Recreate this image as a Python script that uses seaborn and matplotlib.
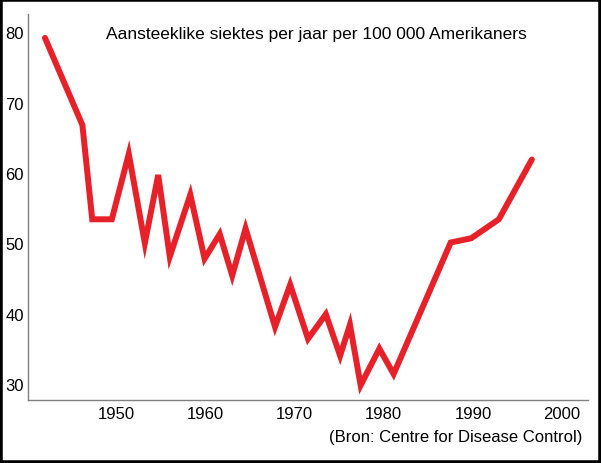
import numpy as np
import pandas as pd
import seaborn as sns
import matplotlib.pyplot as plt
from matplotlib.patches import Rectangle

# values
years = [1942.0, 1946.2, 1947.3, 1949.5, 1951.4, 1953.2, 1954.7, 1956.0, 1958.3,
         1959.9, 1961.6, 1963.0, 1964.5, 1967.8, 1969.5, 1971.5, 1973.5, 1975.1,
         1976.2, 1977.4, 1979.5, 1981.1, 1987.5, 1989.8, 1992.9, 1996.6]
cases = [79.2, 66.8, 53.4, 53.4, 62.7, 50.0, 59.7, 48.1, 56.9,
         47.8, 51.3, 45.4, 52.1, 38.1, 44.1, 36.4, 39.9, 34.0,
         38.4, 29.8, 35.0, 31.4, 50.1, 50.7, 53.4, 61.9]
x_ticks = [1950, 1960, 1970, 1980, 1990, 2000]
y_ticks = [30, 40, 50, 60, 70, 80]

title = "Aansteeklike siektes per jaar per 100 000 Amerikaners"
source = "(Bron: Centre for Disease Control)"


def main():
    sns.set_theme(style="white")
    plt.rcParams['font.family'] = ['Liberation Sans', 'DejaVu Sans']

    df = pd.DataFrame({"jaar": years, "siektes": cases})

    fig = plt.figure(figsize=(6.01, 4.64), dpi=100)
    ax = fig.add_axes([0.0466, 0.1358, 0.9318, 0.8319])

    sns.lineplot(data=df, x="jaar", y="siektes", ax=ax, sort=False,
                 color="#e62129", linewidth=4.3)
    for ln in ax.lines:
        ln.set_solid_joinstyle("miter")
        ln.set_solid_capstyle("round")

    ax.set_xlim(1940.1, 2002.9)
    ax.set_ylim(27.7, 82.6)
    ax.set_xticks(x_ticks)
    ax.set_yticks(y_ticks)
    ax.tick_params(axis="both", length=0, labelsize=12, colors="black")
    ax.tick_params(axis="x", pad=4)
    ax.tick_params(axis="y", pad=3)
    ax.set_xlabel("")
    ax.set_ylabel("")

    for side in ["top", "right"]:
        ax.spines[side].set_visible(False)
    for side in ["left", "bottom"]:
        ax.spines[side].set_color("#808080")
        ax.spines[side].set_linewidth(1.0)

    fig.text(316 / 601, 1 - 35 / 464, title, ha="center", va="center",
             fontsize=12.5, color="black")
    fig.text(582 / 601, 1 - 438 / 464, source, ha="right", va="center",
             fontsize=12, color="black")

    # black frame round the whole picture
    fig.patches.append(Rectangle((0, 0), 1, 1, transform=fig.transFigure,
                                 fill=False, edgecolor="black", linewidth=4))

    fig.savefig("out.png", dpi=100)


if __name__ == "__main__":
    main()
